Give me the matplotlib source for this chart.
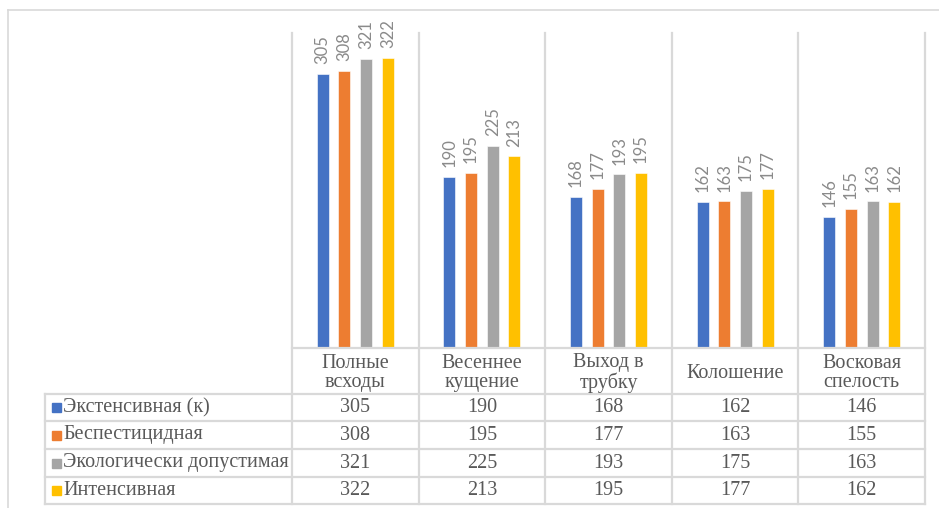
import numpy as np
import matplotlib.pyplot as plt
from matplotlib.lines import Line2D
from matplotlib.patches import Rectangle

# ---------------------------------------------
#               DATA
# ---------------------------------------------

categories = ["Полные\nвсходы", "Весеннее\nкущение", "Выход в\nтрубку", "Колошение", "Восковая\nспелость"]
series_names = ["Экстенсивная (к)", "Беспестицидная", "Экологически допустимая", "Интенсивная"]
extensive = [305, 190, 168, 162, 146]
no_pesticide = [308, 195, 177, 163, 155]
ecological = [321, 225, 193, 175, 163]
intensive = [322, 213, 195, 177, 162]
colors = ["#4472C4", "#ED7D31", "#A5A5A5", "#FFC000"]

series = [extensive, no_pesticide, ecological, intensive]

# ---------------------------------------------
#               LAYOUT (pixels)
# ---------------------------------------------

W, H = 939, 508
grid_color = "#D9D9D9"
text_color = "#595959"

plot_left, plot_right = 292, 925
plot_top, plot_bottom = 33, 348
table_left = 45
row_lines = [394, 421, 449, 477, 504]

def fx(px):
    return px / W

def fy(py):
    return 1 - py / H

fig = plt.figure(figsize=(W / 100, H / 100), dpi=100)

ax = fig.add_axes([fx(plot_left), fy(plot_bottom), fx(plot_right) - fx(plot_left), fy(plot_top) - fy(plot_bottom)])
ax.set_xlim(0, len(categories))
ax.set_ylim(0, 350)
ax.axis("off")

# bars
n = len(categories)
cat_px = (plot_right - plot_left) / n
bar_w = 12 / cat_px
step = 21.7 / cat_px
offsets = (np.arange(4) - 1.5) * step
x = np.arange(n) + 0.5

for k, vals in enumerate(series):
    ax.bar(x + offsets[k], vals, width=bar_w, color=colors[k], edgecolor="white", linewidth=0.4, zorder=3)
    for xi, v in zip(x + offsets[k], vals):
        ax.annotate(str(v), (xi, v), xytext=(0, 7), textcoords="offset points",
                    rotation=90, ha="center", va="bottom", fontsize=12,
                    color="#8A8A8A", family="Lato")

# ---------------------------------------------
#               TABLE + FRAME
# ---------------------------------------------

def line(x0, y0, x1, y1, lw=1.6, c=grid_color):
    fig.add_artist(Line2D([fx(x0), fx(x1)], [fy(y0), fy(y1)], color=c, lw=lw, transform=fig.transFigure))

# outer frame
line(8, 10, W, 10, lw=1.2)
line(8, 10, 8, H, lw=1.2)

# vertical category lines
bounds = [plot_left + i * cat_px for i in range(n + 1)]
for b in bounds:
    line(b, plot_top, b, row_lines[-1])

# x axis / table header top
line(plot_left, plot_bottom, plot_right, plot_bottom)
for r in row_lines:
    line(table_left, r, plot_right, r)
line(table_left, row_lines[0], table_left, row_lines[-1])

serif = ["Liberation Serif", "DejaVu Serif"]
fs = 14.5

# header
for i, cat in enumerate(categories):
    cx = (bounds[i] + bounds[i + 1]) / 2
    cy = (plot_bottom + row_lines[0]) / 2 + 2
    fig.text(fx(cx), fy(cy), cat, ha="center", va="center", fontsize=fs,
             family=serif, color=text_color, linespacing=1.0)

# rows
for k, name in enumerate(series_names):
    cy = (row_lines[k] + row_lines[k + 1]) / 2
    fig.add_artist(Rectangle((fx(52), fy(cy + 4.5)), fx(9), 9 / H, color=colors[k],
                             transform=fig.transFigure))
    fig.text(fx(63), fy(cy), name, ha="left", va="center", fontsize=fs,
             family=serif, color=text_color)
    for i in range(n):
        cx = (bounds[i] + bounds[i + 1]) / 2
        fig.text(fx(cx), fy(cy), str(series[k][i]), ha="center", va="center",
                 fontsize=fs, family=serif, color=text_color)

fig.savefig("out.png", dpi=100)
